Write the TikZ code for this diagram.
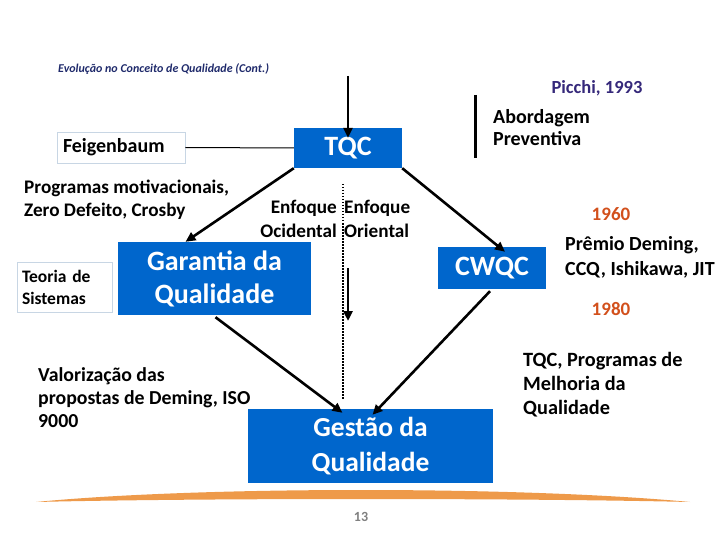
\documentclass[tikz,border=0pt]{standalone}
\usepackage{fontspec}
\setmainfont{Carlito}
\usetikzlibrary{arrows.meta}
\definecolor{boxblue}{HTML}{0066CC}
\definecolor{boxline}{HTML}{C8D6E4}
\definecolor{titleblue}{HTML}{1F2A6B}
\definecolor{picchi}{HTML}{35287A}
\definecolor{yearred}{HTML}{D2501C}
\definecolor{swoosh}{HTML}{EE9A4A}
\begin{document}
\begin{tikzpicture}[x=1pt,y=-1pt,
  bluebox/.style={fill=boxblue, text=white, align=center, inner sep=0pt},
  lightbox/.style={draw=boxline, line width=0.8pt, align=left, inner sep=0pt},
  note/.style={inner sep=0pt, align=left, font=\bfseries\fontsize{19.2}{23}\selectfont},
  year/.style={inner sep=0pt, text=yearred, font=\bfseries\fontsize{19}{22}\selectfont},
  bigarrow/.style={line width=2.6pt, -{Triangle[length=10pt,width=9pt]}},
]
\useasboundingbox (0,0) rectangle (720,540);

% title
\node[anchor=base west, inner sep=0pt, text=titleblue, font=\bfseries\itshape\fontsize{12}{14}\selectfont] (title) at (58,73) {Evolução no Conceito de Qualidade (Cont.)};
\node[inner sep=0pt, text=picchi, font=\bfseries\fontsize{18.5}{22}\selectfont] (picchi) at (597,88) {Picchi, 1993};

% boxes
\node[bluebox, minimum width=108pt, minimum height=40pt, font=\bfseries\fontsize{28}{32}\selectfont] (tqc) at (348,148) {TQC};
\node[lightbox, minimum width=128pt, minimum height=31pt, text width=116pt, font=\bfseries\fontsize{20}{23}\selectfont] (feig) at (121,147.5) {Feigenbaum};
\node[bluebox, minimum width=193pt, minimum height=73pt, font=\bfseries\fontsize{28}{33}\selectfont] (gar) at (214.5,278.5) {Garantia da\\Qualidade};
\node[lightbox, minimum width=95pt, minimum height=50pt, text width=85pt, font=\bfseries\fontsize{17.5}{22}\selectfont] (teoria) at (64.5,287) {Teoria de\\Sistemas};
\node[bluebox, minimum width=108pt, minimum height=42pt, font=\bfseries\fontsize{28}{32}\selectfont] (cwqc) at (492,268) {CWQC};
\node[bluebox, minimum width=245pt, minimum height=74pt, font=\bfseries\fontsize{27.5}{35}\selectfont] (gest) at (370.5,446) {Gestão da\\Qualidade};

% notes
\node[note, anchor=north west] (prog) at (24,179.5) {Programas motivacionais,\\Zero Defeito, Crosby};
\node[note, anchor=north east, align=right, font=\bfseries\fontsize{19.2}{24}\selectfont] (ocid) at (337,199.5) {Enfoque\\Ocidental};
\node[note, anchor=north west, font=\bfseries\fontsize{19.2}{24}\selectfont] (orie) at (344,199.5) {Enfoque\\Oriental};
\node[note, anchor=north west, font=\bfseries\fontsize{20}{22}\selectfont] (abord) at (493,109.5) {Abordagem\\Preventiva};
\node[year] (y1960) at (611,214) {1960};
\node[note, anchor=north west, font=\bfseries\fontsize{20}{25}\selectfont] (premio) at (565,236) {Prêmio Deming,\\CCQ, Ishikawa, JIT};
\node[year] (y1980) at (611,309) {1980};
\node[note, anchor=north west, font=\bfseries\fontsize{20.3}{24}\selectfont] (melh) at (523,352) {TQC, Programas de\\Melhoria da\\Qualidade};
\node[note, anchor=north west, font=\bfseries\fontsize{19.8}{23}\selectfont] (valor) at (38,367) {Valorização das\\propostas de Deming, ISO\\9000};
\node[inner sep=0pt, text=black!50, font=\bfseries\fontsize{14}{16}\selectfont] (page) at (361,517) {13};

% free-end coordinates
\coordinate (topin) at (348,76);
\coordinate (abtop) at (475,95);
\coordinate (abbot) at (475,158);
\coordinate (dottop) at (343,184);
\coordinate (dotbot) at (343,400);
\coordinate (smtop) at (348,268);
\coordinate (smbot) at (348,321);

% connectors
\draw[bigarrow] (topin) -- ([yshift=-10pt]tqc.north);
\draw[line width=3pt] (abtop) -- (abbot);
\draw[line width=1pt] (feig.east) -- (tqc.west);
\draw[bigarrow] (tqc.south west) -- ([xshift=-29pt]gar.north);
\draw[bigarrow] (tqc.south east) -- ([xshift=13pt,yshift=-5pt]cwqc.north);
\draw[bigarrow] ([xshift=1pt,yshift=-2pt]gar.south) -- ([xshift=-28pt,yshift=-4pt]gest.north);
\draw[bigarrow] ([xshift=-2pt,yshift=-2pt]cwqc.south) -- ([xshift=2pt,yshift=-6pt]gest.north);
\draw[line width=1.8pt, dash pattern=on 1.5pt off 1.5pt] (dottop) -- (dotbot);
\draw[bigarrow] (smtop) -- (smbot);

% swoosh
\fill[swoosh] (36,502) .. controls (200,486) and (520,486) .. (690,502)
  .. controls (520,498) and (200,498) .. (36,502) -- cycle;
\end{tikzpicture}
\end{document}
